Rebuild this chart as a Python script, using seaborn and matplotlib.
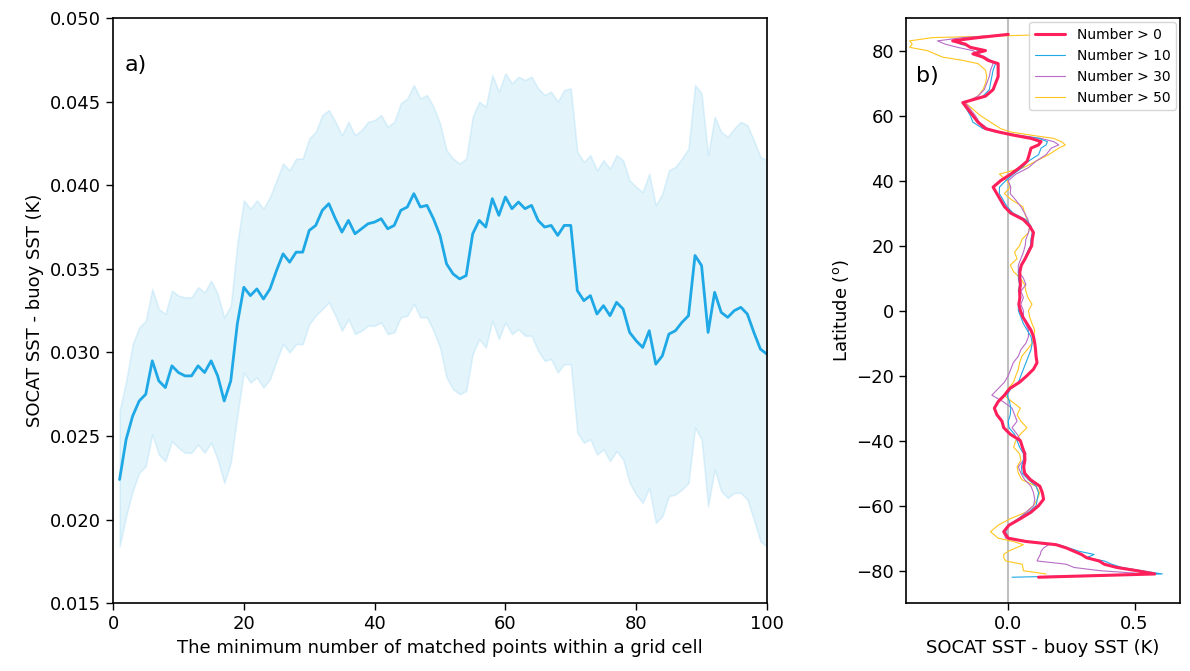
import matplotlib
matplotlib.use("Agg")
import matplotlib.pyplot as plt
import numpy as np
import pandas as pd
import seaborn as sns

# Panel a): mean SST difference vs. minimum number of matched points, with spread band.
min_points = list(range(1, 101))
mean_diff = [
    0.0224, 0.0248, 0.0262, 0.0271, 0.0275, 0.0295, 0.0283, 0.0279, 0.0292, 0.0288,
    0.0286, 0.0286, 0.0292, 0.0288, 0.0295, 0.0286, 0.0271, 0.0283, 0.0317, 0.0339,
    0.0334, 0.0338, 0.0332, 0.0338, 0.0349, 0.0359, 0.0354, 0.0360, 0.0360, 0.0373,
    0.0376, 0.0385, 0.0389, 0.0380, 0.0372, 0.0379, 0.0371, 0.0374, 0.0377, 0.0378,
    0.0380, 0.0374, 0.0376, 0.0385, 0.0387, 0.0395, 0.0387, 0.0388, 0.0380, 0.0370,
    0.0353, 0.0347, 0.0344, 0.0346, 0.0371, 0.0379, 0.0375, 0.0392, 0.0382, 0.0393,
    0.0386, 0.0390, 0.0386, 0.0388, 0.0379, 0.0375, 0.0376, 0.0370, 0.0376, 0.0376,
    0.0337, 0.0331, 0.0334, 0.0323, 0.0328, 0.0322, 0.0330, 0.0326, 0.0312, 0.0307,
    0.0303, 0.0313, 0.0293, 0.0298, 0.0311, 0.0313, 0.0318, 0.0322, 0.0358, 0.0352,
    0.0312, 0.0336, 0.0324, 0.0321, 0.0325, 0.0327, 0.0323, 0.0312, 0.0302, 0.0299,
]
upper_diff = [
    0.0265, 0.0283, 0.0305, 0.0315, 0.0319, 0.0338, 0.0326, 0.0323, 0.0337, 0.0334,
    0.0333, 0.0333, 0.0339, 0.0336, 0.0343, 0.0335, 0.0321, 0.0328, 0.0365, 0.0391,
    0.0386, 0.0391, 0.0386, 0.0393, 0.0403, 0.0413, 0.0409, 0.0416, 0.0416, 0.0428,
    0.0432, 0.0442, 0.0445, 0.0438, 0.0430, 0.0438, 0.0430, 0.0433, 0.0438, 0.0439,
    0.0442, 0.0435, 0.0438, 0.0449, 0.0452, 0.0460, 0.0452, 0.0454, 0.0447, 0.0437,
    0.0421, 0.0416, 0.0413, 0.0416, 0.0441, 0.0450, 0.0447, 0.0466, 0.0456, 0.0467,
    0.0461, 0.0465, 0.0463, 0.0465, 0.0458, 0.0454, 0.0456, 0.0450, 0.0457, 0.0458,
    0.0420, 0.0414, 0.0418, 0.0409, 0.0415, 0.0410, 0.0418, 0.0415, 0.0403, 0.0399,
    0.0396, 0.0407, 0.0388, 0.0395, 0.0409, 0.0411, 0.0416, 0.0422, 0.0460, 0.0455,
    0.0418, 0.0441, 0.0432, 0.0429, 0.0434, 0.0438, 0.0436, 0.0427, 0.0417, 0.0415,
]
lower_diff = [
    0.0184, 0.0202, 0.0217, 0.0228, 0.0232, 0.0251, 0.0239, 0.0235, 0.0247, 0.0243,
    0.0240, 0.0240, 0.0245, 0.0240, 0.0246, 0.0236, 0.0222, 0.0234, 0.0262, 0.0288,
    0.0282, 0.0285, 0.0279, 0.0284, 0.0295, 0.0305, 0.0300, 0.0305, 0.0305, 0.0317,
    0.0322, 0.0326, 0.0330, 0.0322, 0.0313, 0.0320, 0.0311, 0.0313, 0.0316, 0.0316,
    0.0318, 0.0311, 0.0312, 0.0321, 0.0322, 0.0329, 0.0321, 0.0321, 0.0313, 0.0303,
    0.0285, 0.0278, 0.0275, 0.0277, 0.0299, 0.0308, 0.0303, 0.0319, 0.0308, 0.0318,
    0.0311, 0.0314, 0.0310, 0.0310, 0.0301, 0.0295, 0.0296, 0.0288, 0.0293, 0.0293,
    0.0252, 0.0246, 0.0248, 0.0239, 0.0242, 0.0235, 0.0241, 0.0236, 0.0222, 0.0215,
    0.0210, 0.0219, 0.0198, 0.0202, 0.0214, 0.0215, 0.0218, 0.0222, 0.0255, 0.0248,
    0.0208, 0.0230, 0.0217, 0.0213, 0.0216, 0.0216, 0.0212, 0.0200, 0.0187, 0.0184,
]

# Panel b): latitudinal profiles of the SST difference for different thresholds.
latitude = (
    [85, 84, 83, 82, 81, 80, 79, 78, 77, 76]
    + [74, 72, 70, 68, 66, 64, 62, 60, 58, 56]
    + [55, 54, 53, 52, 51]
    + list(range(50, -71, -2))
    + list(range(-71, -83, -1))
)
diff_n0 = [
    0.0, -0.12, -0.22, -0.17, -0.15, -0.09, -0.14, -0.10, -0.08, -0.04,
    -0.04, -0.04, -0.05, -0.06, -0.09, -0.18, -0.16, -0.14, -0.12, -0.09,
    -0.04, 0.02, 0.09, 0.13, 0.12,
    0.09, 0.083, 0.075, 0.045, 0.01, -0.03, -0.06, -0.045, -0.03, -0.015,
    0.01, 0.06, 0.085, 0.10, 0.095, 0.093, 0.08, 0.067, 0.052, 0.046,
    0.046, 0.048, 0.045, 0.046, 0.042, 0.048, 0.058, 0.074, 0.09, 0.10,
    0.105, 0.108, 0.11, 0.114, 0.10, 0.074, 0.045, 0.005, -0.015, -0.04,
    -0.055, -0.045, -0.025, -0.018, 0.008, 0.048, 0.056, 0.065, 0.066, 0.061,
    0.065, 0.088, 0.125, 0.135, 0.14, 0.12, 0.09, 0.048, 0.003, -0.018,
    0.0,
    0.07, 0.19, 0.23, 0.26, 0.29, 0.31, 0.36, 0.38, 0.43, 0.51, 0.58, 0.12,
]
diff_n10 = [
    0.0, -0.12, -0.21, -0.19, -0.14, -0.12, -0.12, -0.10, -0.07, -0.05,
    -0.06, -0.065, -0.07, -0.075, -0.10, -0.18, -0.165, -0.15, -0.14, -0.10,
    -0.05, 0.03, 0.12, 0.155, 0.15,
    0.13, 0.12, 0.08, 0.055, 0.02, -0.01, -0.035, -0.035, -0.02, -0.005,
    0.02, 0.07, 0.09, 0.095, 0.09, 0.088, 0.075, 0.065, 0.05, 0.04,
    0.04, 0.045, 0.04, 0.05, 0.04, 0.04, 0.05, 0.06, 0.075, 0.09,
    0.095, 0.09, 0.08, 0.07, 0.06, 0.05, 0.04, 0.01, -0.005, 0.005,
    0.01, 0.008, 0.0, 0.003, 0.025, 0.035, 0.045, 0.06, 0.06, 0.052,
    0.055, 0.08, 0.11, 0.12, 0.115, 0.11, 0.08, 0.04, 0.0, -0.01,
    0.0,
    0.075, 0.2, 0.24, 0.28, 0.34, 0.31, 0.38, 0.41, 0.45, 0.53, 0.61, 0.015,
]
diff_n30 = [
    0.0, -0.18, -0.28, -0.25, -0.2, -0.14, -0.12, -0.09, -0.07, -0.06,
    -0.07, -0.075, -0.085, -0.095, -0.12, -0.17, -0.15, -0.13, -0.115, -0.08,
    -0.04, 0.04, 0.13, 0.18, 0.2,
    0.17, 0.15, 0.11, 0.08, 0.03, 0.0, 0.01, 0.008, 0.03, 0.05,
    0.065, 0.078, 0.085, 0.08, 0.07, 0.067, 0.06, 0.05, 0.04, 0.04,
    0.06, 0.07, 0.05, 0.06, 0.05, 0.06, 0.06, 0.07, 0.08, 0.08,
    0.07, 0.05, 0.04, 0.02, 0.01, 0.0, -0.015, -0.04, -0.065, -0.02,
    0.015, 0.025, 0.035, 0.015, 0.035, 0.05, 0.055, 0.07, 0.06, 0.04,
    0.05, 0.065, 0.09, 0.1, 0.105, 0.1, 0.07, 0.04, 0.0, -0.02,
    -0.01,
    0.08, 0.16, 0.14, 0.13, 0.127, 0.12, 0.114, 0.23, 0.26, 0.365, 0.55, 0.13,
]
diff_n50 = [
    0.2, -0.3, -0.39, -0.38, -0.39, -0.32, -0.29, -0.26, -0.18, -0.12,
    -0.09, -0.085, -0.09, -0.1, -0.12, -0.17, -0.14, -0.11, -0.07, -0.03,
    0.008, 0.09, 0.18, 0.21, 0.226,
    0.2, 0.16, 0.11, 0.06, -0.035, -0.005, 0.008, -0.015, 0.015, 0.058,
    0.065, 0.075, 0.087, 0.08, 0.055, 0.045, 0.025, 0.035, 0.008, 0.021,
    0.048, 0.065, 0.07, 0.078, 0.094, 0.08, 0.085, 0.094, 0.105, 0.1,
    0.094, 0.075, 0.054, 0.045, 0.04, 0.03, 0.021, 0.0, -0.018, 0.015,
    0.048, 0.035, 0.05, 0.074, 0.048, 0.03, 0.021, 0.045, 0.05, 0.035,
    0.04, 0.054, 0.11, 0.125, 0.115, 0.1, 0.07, 0.008, -0.04, -0.07,
    -0.04,
    0.02, 0.06, 0.03, 0.0, -0.018, -0.018, -0.01, 0.055, 0.058, 0.06, 0.15, np.nan,
]

profile_labels = ["Number > 0", "Number > 10", "Number > 30", "Number > 50"]
profile_colors = ["#FF1F5B", "#1FA8E6", "#B86CC6", "#FFC61E"]
profile_widths = [2.2, 0.8, 0.8, 0.8]

sns.set_style("ticks")
plt.rcParams["font.family"] = ["DejaVu Sans"]
plt.rcParams["text.color"] = "black"
plt.rcParams["axes.labelcolor"] = "black"
plt.rcParams["xtick.direction"] = "out"
plt.rcParams["ytick.direction"] = "out"

fig = plt.figure(figsize=(11.9, 6.71), dpi=100)
ax_a = fig.add_axes([0.095, 0.101, 0.5495, 0.872])
ax_b = fig.add_axes([0.7613, 0.101, 0.2303, 0.872])

# Panel a)
line_color = "#1FA8E6"
ax_a.fill_between(min_points, lower_diff, upper_diff, color=line_color, alpha=0.12, linewidth=1.2)
sns.lineplot(x=min_points, y=mean_diff, ax=ax_a, color=line_color, linewidth=2)
ax_a.set_xlim(0, 100)
ax_a.set_ylim(0.015, 0.050)
ax_a.set_xticks([0, 20, 40, 60, 80, 100])
ax_a.set_yticks(np.arange(0.015, 0.0501, 0.005))
ax_a.yaxis.set_major_formatter(matplotlib.ticker.FormatStrFormatter("%.3f"))
ax_a.set_xlabel("The minimum number of matched points within a grid cell", fontsize=13)
ax_a.set_ylabel("SOCAT SST - buoy SST (K)", fontsize=13)
ax_a.tick_params(labelsize=13, length=5, width=1, colors="black")
ax_a.text(0.018, 0.91, "a)", transform=ax_a.transAxes, fontsize=16)

# Panel b)
ax_b.axvline(0, color="#BFBFBF", linewidth=1.5, zorder=0)
profiles = [diff_n0, diff_n10, diff_n30, diff_n50]
# Thin lines first, the thick one on top; legend keeps the original order.
for i in [3, 2, 1, 0]:
    df = pd.DataFrame({"lat": latitude, "diff": profiles[i]}).dropna()
    sns.lineplot(
        data=df, x="diff", y="lat", ax=ax_b, orient="y", sort=False, estimator=None,
        color=profile_colors[i], linewidth=profile_widths[i], label=profile_labels[i],
    )
h, l = ax_b.get_legend_handles_labels()
order = [l.index(name) for name in profile_labels]
ax_b.legend(
    [h[k] for k in order], profile_labels, loc="upper right", fontsize=10,
    frameon=True, borderaxespad=0.3, handlelength=2.2,
)
ax_b.set_xlim(-0.405, 0.68)
ax_b.set_ylim(-90, 90)
ax_b.set_xticks([0.0, 0.5])
ax_b.set_yticks(np.arange(-80, 81, 20))
ax_b.set_xlabel("SOCAT SST - buoy SST (K)", fontsize=13)
ax_b.set_ylabel(r"Latitude ($^{\mathrm{o}}$)", fontsize=13)
ax_b.tick_params(labelsize=13, length=5, width=1, colors="black")
ax_b.text(0.035, 0.89, "b)", transform=ax_b.transAxes, fontsize=16)

for ax in (ax_a, ax_b):
    for spine in ax.spines.values():
        spine.set_color("black")
        spine.set_linewidth(1.2)

fig.savefig("out.png", dpi=100)
